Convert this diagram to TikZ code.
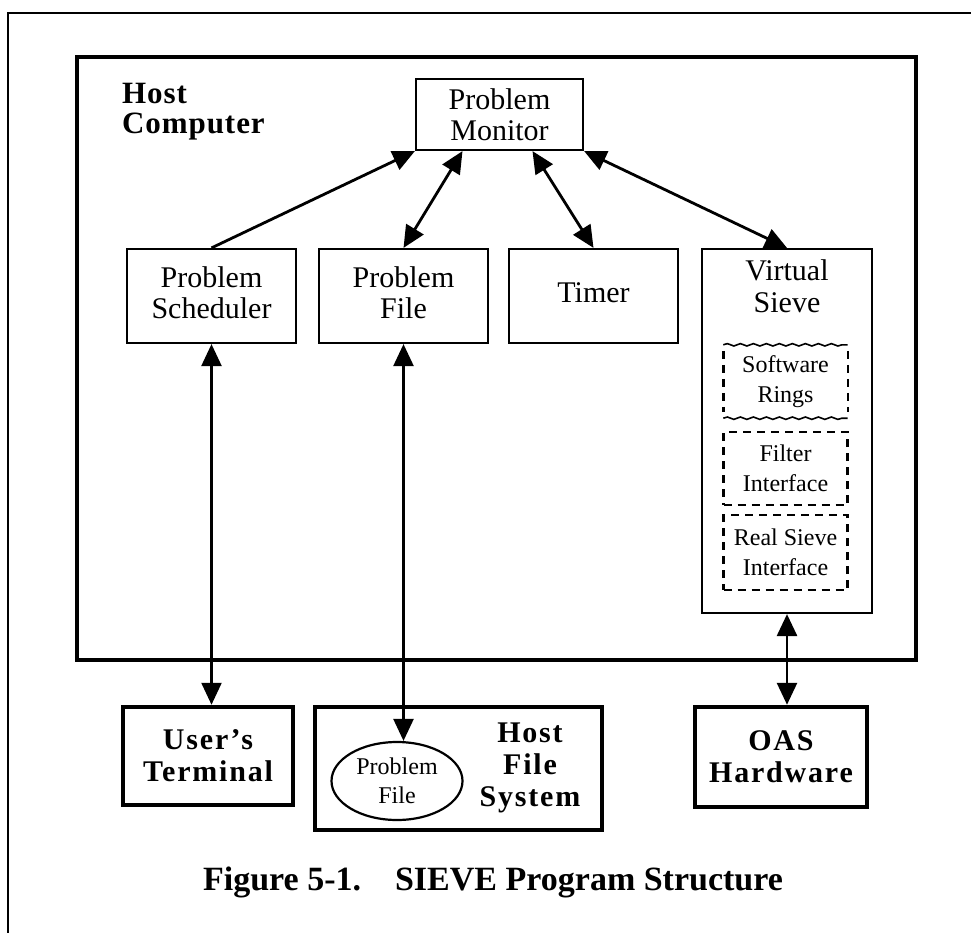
\documentclass[tikz,border=0pt]{standalone}
\usepackage{fontspec}
\setmainfont{Liberation Serif}
\usetikzlibrary{arrows.meta,calc,shapes.geometric,decorations.pathmorphing}
\tikzset{bigtri/.tip={Triangle[length=22pt,width=20pt]}}
\begin{document}
\begin{tikzpicture}[x=1pt,y=-1pt,
  thinbox/.style={draw, line width=2.2pt, inner sep=0pt, align=center, font=\fontsize{30}{31}\selectfont},
  heavybox/.style={draw, line width=4.5pt, inner sep=0pt, align=center, font=\fontsize{30}{32}\selectfont\bfseries\addfontfeatures{LetterSpace=6}},
  boldlabel/.style={inner sep=0pt, align=center, font=\fontsize{30}{32}\selectfont\bfseries\addfontfeatures{LetterSpace=6}},
  subbox/.style={inner sep=0pt, align=center, minimum width=124pt, font=\fontsize{24}{30}\selectfont},
  dashbox/.style={draw, line width=2.4pt, dash pattern=on 8pt off 6pt},
  link/.style={line width=2.8pt},
]
\useasboundingbox (0,0) rectangle (971,933);
\fill[white] (0,0) rectangle (971,933);
% outer frame
\draw[line width=2pt] (8,940) -- (8,13) -- (980,13);

% host computer
\node[draw, line width=4.5pt, inner sep=0pt, minimum width=839pt, minimum height=603pt] (host) at (496.5,358.5) {};
\node[anchor=north west, inner sep=0pt, align=left, font=\fontsize{31}{30}\selectfont\bfseries\addfontfeatures{LetterSpace=3}] (hostlbl) at (122,83) {Host\\Computer};

\node[thinbox, minimum width=167pt, minimum height=71pt] (mon) at (499.5,114.5) {Problem\\Monitor};

\node[thinbox, minimum width=169pt, minimum height=94pt] (sched) at (211.5,296) {Problem\\Scheduler\rule[-6pt]{0pt}{6pt}};
\node[thinbox, minimum width=169pt, minimum height=94pt] (pf) at (403.5,296) {Problem\\File\rule[-6pt]{0pt}{6pt}};
\node[thinbox, minimum width=169pt, minimum height=94pt] (timer) at (593.5,296) {Timer\rule[-6pt]{0pt}{6pt}};
\node[thinbox, minimum width=170pt, minimum height=364pt] (vs) at (787,431) {};
\node[inner sep=0pt, align=center, font=\fontsize{30}{32}\selectfont] (vslbl) at (787,286) {Virtual\\Sieve};

% sub-components of the virtual sieve
\node[subbox, minimum height=73pt] (rings) at (785.5,381.5) {Software\\Rings};
\draw[line width=1.6pt, decorate, decoration={snake, amplitude=1.2pt, segment length=13pt}] (rings.north west) -- (rings.north east);
\draw[line width=1.6pt, decorate, decoration={snake, amplitude=1.2pt, segment length=13pt}] (rings.south west) -- (rings.south east);
\draw[dashbox] ([yshift=-6pt]rings.north west) -- ([yshift=6pt]rings.south west);
\draw[dashbox] ([yshift=-6pt]rings.north east) -- ([yshift=6pt]rings.south east);
\node[subbox, dashbox, minimum height=73pt] (filter) at (785.5,468.5) {Filter\\Interface};
\node[subbox, dashbox, minimum height=75pt] (real) at (785.5,552.5) {Real Sieve\\Interface};

% external boxes
\node[heavybox, minimum width=170pt, minimum height=98pt] (ut) at (208,756) {User's\\Terminal};
\node[draw, line width=4.5pt, inner sep=0pt, minimum width=287pt, minimum height=123pt] (hfs) at (458.5,768.5) {};
\node[boldlabel] (hfslbl) at (530,768) {Host\\File\\System};
\node[draw, ellipse, line width=2.2pt, inner sep=0pt, minimum width=131pt, minimum height=78pt, align=center, font=\fontsize{24}{29}\selectfont] (pfe) at (397,781) {Problem\\File};
\node[heavybox, minimum width=172pt, minimum height=100pt] (oas) at (781,757) {OAS\\Hardware};

% connectors
\draw[link, -bigtri] (sched.north) -- (mon.south west);
\draw[link, bigtri-bigtri] (pf.north) -- ($(mon.south)+(-37,0)$);
\draw[link, bigtri-bigtri] (timer.north) -- ($(mon.south)+(33,0)$);
\draw[link, bigtri-bigtri] (vs.north) -- (mon.south east);
\draw[line width=2.4pt, bigtri-bigtri] (sched.south) -- (sched.south |- ut.north);
\draw[line width=2.4pt, bigtri-bigtri] (pf.south) -- (pf.south |- pfe.north);
\draw[line width=2.8pt, bigtri-bigtri] (vs.south) -- (vs.south |- oas.north);

% caption
\node[anchor=base, inner sep=0pt, font=\fontsize{34}{40}\selectfont\bfseries] (cap) at (493,890) {Figure 5-1.\hskip 1em SIEVE Program Structure};
\end{tikzpicture}
\end{document}
